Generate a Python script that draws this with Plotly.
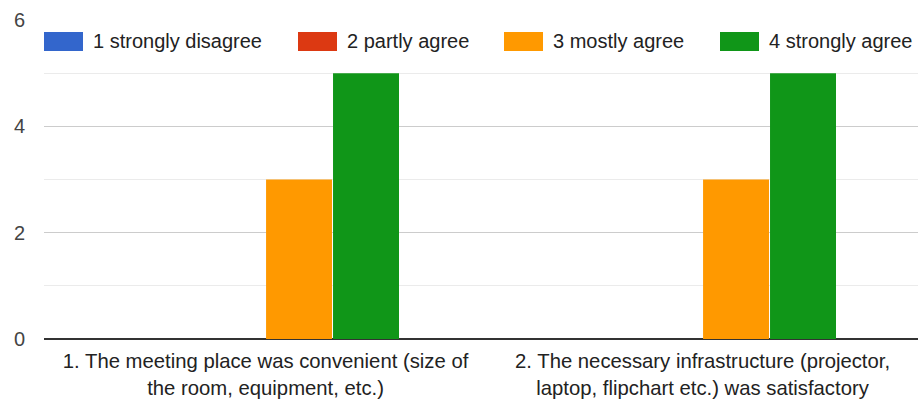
import plotly.graph_objects as go

categories = [
    "1. The meeting place was convenient (size of<br>the room, equipment, etc.)",
    "2. The necessary infrastructure (projector,<br>laptop, flipchart etc.) was satisfactory",
]
series_names = ["1 strongly disagree", "2 partly agree", "3 mostly agree", "4 strongly agree"]
strongly_disagree = [0, 0]
partly_agree = [0, 0]
mostly_agree = [3, 3]
strongly_agree = [5, 5]
y_ticks = [0, 2, 4, 6]

series_values = [strongly_disagree, partly_agree, mostly_agree, strongly_agree]
colors = ["#3366cc", "#dc3912", "#ff9900", "#109618"]

W, H = 918, 401
ML, MR, MT, MB = 44, 0, 20, 62
PW, PH = W - ML - MR, H - MT - MB

FONT = "Liberation Sans, Arial, sans-serif"

fig = go.Figure()
for name, vals, col in zip(series_names, series_values, colors):
    fig.add_trace(go.Bar(x=categories, y=vals, name=name, marker_color=col,
                         marker_line_width=0, showlegend=False))

# custom legend (large swatches like the original)
legend_swatch_x = [44, 298, 504, 720]
sw_w, sw_h, sw_top = 39, 19, 32
shapes, annotations = [], []
def px_x(p):
    return (p - ML) / PW
def px_y(p):
    return (H - MB - p) / PH
for name, col, sx in zip(series_names, colors, legend_swatch_x):
    shapes.append(dict(type="rect", xref="paper", yref="paper",
                       x0=px_x(sx), x1=px_x(sx + sw_w),
                       y0=px_y(sw_top + sw_h), y1=px_y(sw_top),
                       fillcolor=col, line_width=0, layer="above"))
    annotations.append(dict(xref="paper", yref="paper", x=px_x(sx + sw_w + 8),
                            y=px_y(sw_top + sw_h / 2), text=name, showarrow=False,
                            xanchor="left", yanchor="middle",
                            font=dict(family=FONT, size=20, color="#222222")))

fig.update_layout(
    width=W, height=H,
    margin=dict(l=ML, r=MR, t=MT, b=MB, pad=0),
    paper_bgcolor="white", plot_bgcolor="white",
    barmode="group", bargap=0.387, bargroupgap=0.015,
    shapes=shapes, annotations=annotations,
    font=dict(family=FONT, size=20, color="#222222"),
)
fig.update_xaxes(showgrid=False, showline=False, zeroline=False, ticks="",
                 range=[-0.507, 1.493], ticklabelstandoff=8,
                 tickfont=dict(family=FONT, size=20.3, color="#222222"))
fig.update_yaxes(range=[0, 6], tickvals=y_ticks, showgrid=True, gridcolor="#cccccc",
                 gridwidth=1, zeroline=True, zerolinecolor="#333333", zerolinewidth=2,
                 showline=False, ticks="", ticklabelstandoff=18,
                 minor=dict(dtick=1, showgrid=True, gridcolor="#ebebeb", gridwidth=1),
                 tickfont=dict(family=FONT, size=20, color="#444444"))

fig.write_html("out.html", config={"displayModeBar": False},
               post_script="document.body.style.margin='0';document.body.style.overflow='hidden';")
